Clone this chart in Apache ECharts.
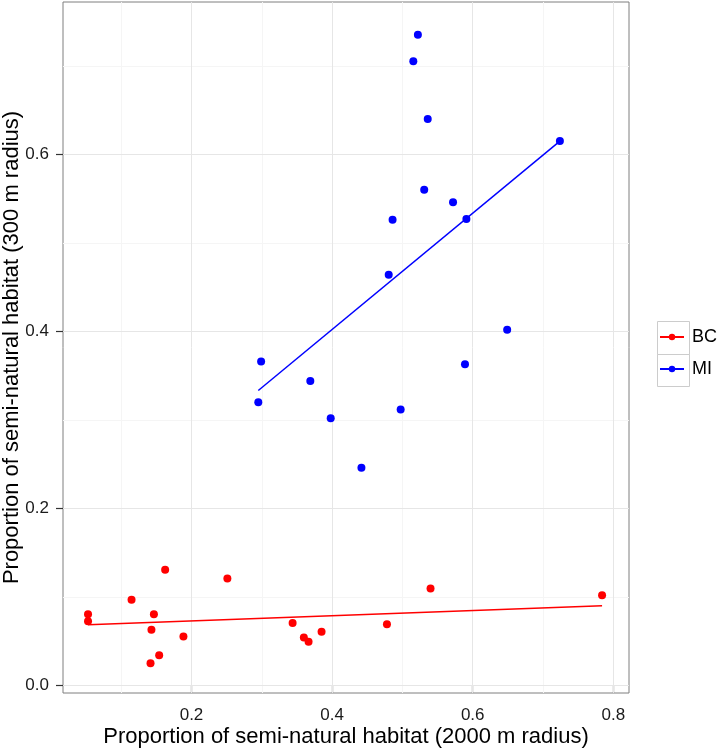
<!DOCTYPE html>
<html>
<head>
<meta charset="utf-8">
<script src="https://cdn.jsdelivr.net/npm/echarts@6/dist/echarts.min.js"></script>
<style>
html,body{margin:0;padding:0;background:#fff;}
#chart{width:718px;height:750px;}
</style>
</head>
<body>
<div id="chart"></div>
<script>
// ---- data ----
const groups = ['BC', 'MI'];
const xTicks = [0.2, 0.4, 0.6, 0.8];
const yTicks = [0.0, 0.2, 0.4, 0.6];
const xMinor = [0.1, 0.3, 0.5, 0.7];
const yMinor = [0.1, 0.3, 0.5, 0.7];

const bcX = [0.0528, 0.0528, 0.1147, 0.1625, 0.1465, 0.1430, 0.1885, 0.1540, 0.1417, 0.2510, 0.3438, 0.3598, 0.3665, 0.3850, 0.4780, 0.5400, 0.7840];
const bcY = [0.0808, 0.0729, 0.0970, 0.1310, 0.0808, 0.0632, 0.0556, 0.0345, 0.0255, 0.1210, 0.0707, 0.0545, 0.0497, 0.0610, 0.0695, 0.1098, 0.1023];

const miX = [0.5220, 0.5155, 0.5360, 0.7240, 0.5310, 0.5720, 0.4860, 0.5910, 0.4805, 0.6490, 0.5890, 0.3690, 0.3980, 0.4975, 0.2990, 0.2950, 0.4417];
const miY = [0.7350, 0.7050, 0.6400, 0.6150, 0.5600, 0.5460, 0.5260, 0.5270, 0.4640, 0.4020, 0.3630, 0.3440, 0.3020, 0.3120, 0.3660, 0.3200, 0.2460];

const bcFitX = [0.0528, 0.7840];
const bcFitY = [0.0688, 0.0903];
const miFitX = [0.2950, 0.7240];
const miFitY = [0.3333, 0.6150];

const colors = {BC: '#ff0000', MI: '#0000ff'};

function pairs(xs, ys) { return xs.map((x, i) => [x, ys[i]]); }

const chart = echarts.init(document.getElementById('chart'), null, {renderer: 'canvas'});

const FONT = '"Liberation Sans", Arial, Helvetica, sans-serif';

const minorStyle = {color: '#f5f5f5', width: 1, type: 'solid'};
const majorStyle = {color: '#e6e6e6', width: 1, type: 'solid'};
const gridLines = [];
xMinor.forEach(v => gridLines.push({xAxis: v, lineStyle: minorStyle}));
yMinor.forEach(v => gridLines.push({yAxis: v, lineStyle: minorStyle}));
xTicks.forEach(v => gridLines.push({xAxis: v, lineStyle: majorStyle}));
yTicks.forEach(v => gridLines.push({yAxis: v, lineStyle: majorStyle}));

const option = {
  animation: false,
  backgroundColor: '#ffffff',
  grid: {
    left: 63, top: 2, width: 566, height: 691,
    outerBoundsMode: 'none', containLabel: false,
    show: true, borderColor: '#7f7f7f', borderWidth: 1, backgroundColor: '#ffffff'
  },
  xAxis: {
    type: 'value', min: 0.0172, max: 0.8223,
    name: 'Proportion of semi-natural habitat (2000 m radius)',
    nameLocation: 'middle', nameGap: 33, nameMoveOverlap: false,
    nameTextStyle: {fontFamily: FONT, fontSize: 22, color: '#000'},
    axisLine: {show: false},
    axisTick: {show: true, length: 7, customValues: xTicks, lineStyle: {color: '#333', width: 1.2}},
    axisLabel: {customValues: xTicks, margin: 14, fontFamily: FONT, fontSize: 17, color: '#1a1a1a',
                formatter: v => v.toFixed(1)},
    splitLine: {show: false}
  },
  yAxis: {
    type: 'value', min: -0.0082, max: 0.772,
    name: 'Proportion of semi-natural habitat (300 m radius)',
    nameLocation: 'middle', nameGap: 40, nameMoveOverlap: false,
    nameTextStyle: {fontFamily: FONT, fontSize: 22, color: '#000'},
    axisLine: {show: false},
    axisTick: {show: true, length: 7, customValues: yTicks, lineStyle: {color: '#333', width: 1.2}},
    axisLabel: {customValues: yTicks, margin: 14, fontFamily: FONT, fontSize: 17, color: '#1a1a1a',
                formatter: v => v.toFixed(1)},
    splitLine: {show: false}
  },
  legend: {
    orient: 'vertical', left: 659, top: 327, padding: 0,
    data: groups,
    itemWidth: 24, itemHeight: 8, itemGap: 12,
    textStyle: {fontFamily: FONT, fontSize: 18, color: '#000', lineHeight: 20, padding: [0, 0, 0, 3]},
    selectedMode: false
  },
  graphic: [
    {type: 'rect', left: 655, top: 319, shape: {width: 32, height: 33}, style: {fill: 'none', stroke: '#cccccc', lineWidth: 1}, z: 0},
    {type: 'rect', left: 655, top: 352, shape: {width: 32, height: 32}, style: {fill: 'none', stroke: '#cccccc', lineWidth: 1}, z: 0}
  ],
  series: [
    {
      type: 'line', name: '_grid', data: [], z: 1, silent: true,
      markLine: {silent: true, z: 1, symbol: ['none', 'none'], label: {show: false}, animation: false, data: gridLines}
    },
    {
      type: 'line', name: 'BC', data: pairs(bcFitX, bcFitY), z: 6,
      symbol: 'circle', showSymbol: false, symbolSize: 8,
      lineStyle: {color: colors.BC, width: 1.5}, itemStyle: {color: colors.BC}
    },
    {
      type: 'line', name: 'MI', data: pairs(miFitX, miFitY), z: 6,
      symbol: 'circle', showSymbol: false, symbolSize: 8,
      lineStyle: {color: colors.MI, width: 1.5}, itemStyle: {color: colors.MI}
    },
    {
      type: 'scatter', name: 'BC', data: pairs(bcX, bcY), z: 8,
      symbol: 'circle', symbolSize: 8, itemStyle: {color: colors.BC, opacity: 1}
    },
    {
      type: 'scatter', name: 'MI', data: pairs(miX, miY), z: 8,
      symbol: 'circle', symbolSize: 8, itemStyle: {color: colors.MI, opacity: 1}
    }
  ]
};
chart.setOption(option);
</script>
</body>
</html>
